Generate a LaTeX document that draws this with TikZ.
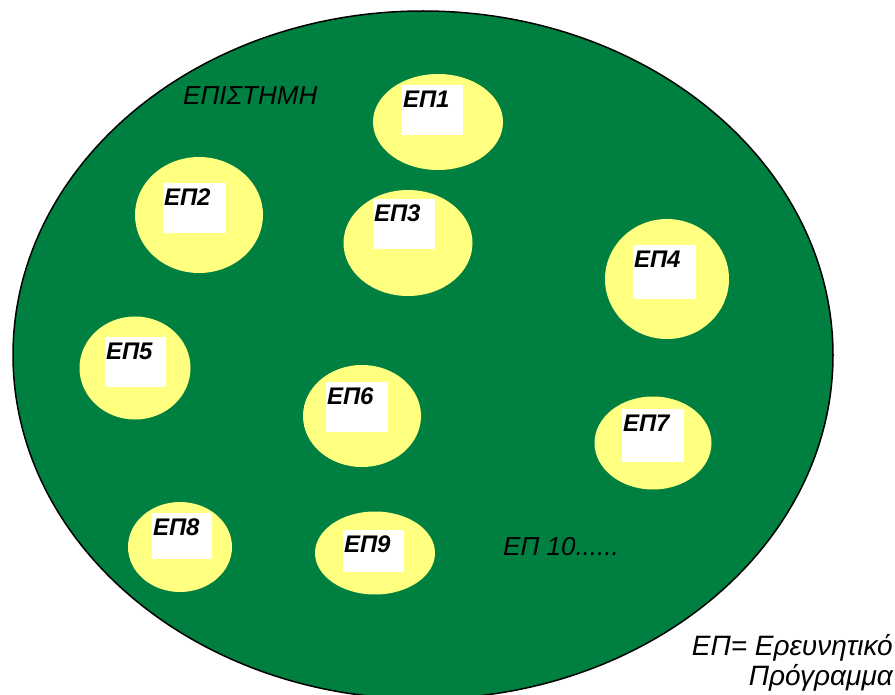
\documentclass[tikz,border=0pt]{standalone}
\usepackage{fontspec}
\setmainfont{Liberation Sans}
\usetikzlibrary{shapes.geometric}
\definecolor{sciGreen}{RGB}{0,128,64}
\definecolor{epYellow}{RGB}{255,255,128}
\begin{document}
\begin{tikzpicture}[x=1pt,y=-1pt,
  ep/.style={ellipse, fill=epYellow, inner sep=0pt},
  box/.style={fill=white, inner sep=0pt},
  lab/.style={anchor=north west, inner sep=0pt, xshift=1pt, yshift=-6pt,
    font=\fontsize{24}{28}\selectfont\itshape\bfseries},
  txt/.style={inner sep=0pt, font=\fontsize{26}{30}\selectfont\itshape}]
\useasboundingbox (0,0) rectangle (895,695);
\begin{scope}
\clip (0,0) rectangle (895,695);
\node[ellipse, draw=black, line width=1.5pt, fill=sciGreen, inner sep=0pt,
  minimum width=820pt, minimum height=688pt] (sci) at (423,355) {};
\end{scope}
% yellow research programmes
\node[ep, minimum width=130pt, minimum height=96pt] (c1) at (438,122) {};
\node[ep, minimum width=128pt, minimum height=116pt] (c2) at (199,215) {};
\node[ep, minimum width=129pt, minimum height=106pt] (c3) at (408,243) {};
\node[ep, minimum width=124pt, minimum height=120pt] (c4) at (667,279) {};
\node[ep, minimum width=111pt, minimum height=103pt] (c5) at (135,368) {};
\node[ep, minimum width=118pt, minimum height=102pt] (c6) at (362,416) {};
\node[ep, minimum width=117pt, minimum height=93pt] (c7) at (653,443) {};
\node[ep, minimum width=104pt, minimum height=90pt] (c8) at (180,547) {};
\node[ep, minimum width=120pt, minimum height=83pt] (c9) at (375,553) {};
% white label boxes
\node[box, minimum width=61pt, minimum height=50pt] (b1) at (432.5,110) {};
\node[box, minimum width=63pt, minimum height=50pt] (b2) at (194.5,208) {};
\node[box, minimum width=62pt, minimum height=50pt] (b3) at (404,224) {};
\node[box, minimum width=63pt, minimum height=54pt] (b4) at (664.5,272) {};
\node[box, minimum width=61pt, minimum height=50pt] (b5) at (135.5,362) {};
\node[box, minimum width=62pt, minimum height=50pt] (b6) at (357,407) {};
\node[box, minimum width=62pt, minimum height=53pt] (b7) at (653,435.5) {};
\node[box, minimum width=60pt, minimum height=46pt] (b8) at (182,536) {};
\node[box, minimum width=61pt, minimum height=42pt] (b9) at (373.5,551) {};
% labels
\node[lab] (l1) at (b1.north west) {ΕΠ1};
\node[lab] (l2) at (b2.north west) {ΕΠ2};
\node[lab] (l3) at (b3.north west) {ΕΠ3};
\node[lab] (l4) at (b4.north west) {ΕΠ4};
\node[lab] (l5) at (b5.north west) {ΕΠ5};
\node[lab] (l6) at (b6.north west) {ΕΠ6};
\node[lab] (l7) at (b7.north west) {ΕΠ7};
\node[lab] (l8) at (b8.north west) {ΕΠ8};
\node[lab] (l9) at (b9.north west) {ΕΠ9};
% texts
\node[txt, anchor=north west] (title) at (183,86) {ΕΠΙΣΤΗΜΗ};
\node[txt, anchor=north west] (ep10) at (503,537) {ΕΠ 10......};
\node[txt, anchor=north east, align=right,
  font=\fontsize{28}{30}\selectfont\itshape] (legend) at (893,634)
  {ΕΠ= Ερευνητικό\\Πρόγραμμα};
\end{tikzpicture}
\end{document}
